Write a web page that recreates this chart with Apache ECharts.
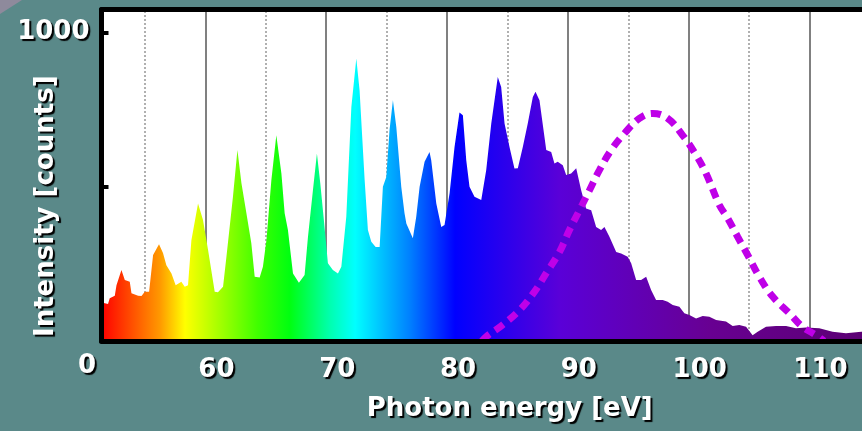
<!DOCTYPE html>
<html><head><meta charset="utf-8">
<script src="https://cdn.jsdelivr.net/npm/echarts@6/dist/echarts.min.js"></script>
<style>html,body{margin:0;padding:0;background:#5a8989}#c{width:862px;height:431px}</style>
</head><body><div id="c"></div>
<script>
// ---- data ----
const xTickLabels = [60, 70, 80, 90, 100, 110];
const gridMajor = [60, 70, 80, 90, 100, 110];
const gridMinor = [55, 65, 75, 85, 95, 105, 115];
const yTickValues = [0, 500, 1000];
const yLabelShown = [1000];
const originLabel = '0';
// measured spectrum: [photon energy eV, counts]
const spectrum = [
 [51.4,123],[51.6,123],[51.94,120],[52.08,139],[52.5,147],[52.64,181],[53.05,230],[53.33,198],[53.74,192],[53.88,155],
 [54.43,147],[54.71,146],[54.98,160],[55.34,160],[55.67,279],[56.16,314],[56.49,285],[56.77,246],[57.19,219],[57.54,181],
 [58.01,192],[58.29,176],[58.56,181],[58.84,327],[59.39,446],[59.8,392],[60.22,295],[60.77,160],[61.04,158],[61.46,176],
 [61.74,273],[62.28,468],[62.65,619],[62.98,512],[63.39,415],[63.8,317],[64.08,208],[64.49,206],[64.76,241],[65.05,327],
 [65.46,522],[65.87,667],[66.29,543],[66.56,414],[66.83,360],[67.25,219],[67.74,189],[68.21,214],[68.49,338],[68.9,489],
 [69.23,608],[69.51,511],[69.78,403],[70.14,252],[70.55,230],[70.97,219],[71.25,241],[71.66,403],[72.08,759],[72.49,916],
 [72.76,813],[73.18,522],[73.45,360],[73.73,322],[74.09,305],[74.42,305],[74.69,500],[74.97,532],[75.24,684],[75.52,781],
 [75.8,694],[76.21,500],[76.48,414],[76.63,381],[77.17,333],[77.45,403],[77.73,500],[78.14,581],[78.55,613],[78.69,586],
 [79.11,446],[79.52,370],[79.79,376],[80.21,479],[80.62,629],[81.03,741],[81.31,732],[81.59,586],[81.86,500],[82.27,468],
 [82.83,457],[83.24,554],[83.66,705],[84.2,856],[84.48,824],[84.76,705],[85.17,629],[85.58,559],[85.86,560],[86.27,629],
 [86.68,705],[87.1,791],[87.32,808],[87.65,781],[88.21,619],[88.62,613],[88.89,576],[89.16,581],[89.58,570],[89.86,538],
 [90.27,543],[90.69,560],[91.1,489],[91.51,430],[91.93,424],[92.34,370],[92.75,360],[93.03,370],[93.44,338],[94.0,289],
 [94.41,284],[94.95,273],[95.24,252],[95.65,198],[96.06,198],[96.48,208],[96.89,165],[97.3,133],[97.85,133],[98.26,127],
 [98.68,117],[99.23,111],[99.64,90],[100.06,84],[100.61,73],[101.16,81],[101.71,79],[102.27,68],[103.09,63],[103.64,49],
 [104.19,52],[104.75,46],[105.29,19],[105.71,30],[106.4,46],[107.23,49],[108.06,49],[108.88,41],[109.71,44],[110.81,41],
 [111.91,30],[113.02,25],[114.28,30],[116,28]
];
// dashed envelope curve: [eV, counts]
const envelope = [
 [82.9,0],[83.24,14],[84.59,52],[86.0,100],[87.24,160],[88.21,220],[89.31,289],[90.13,360],[90.96,424],[91.79,489],
 [92.61,554],[93.58,619],[94.68,673],[95.92,722],[97.02,738],[98.26,722],[99.5,667],[100.61,603],[101.44,543],[102.54,441],
 [103.23,398],[104.05,338],[104.88,279],[105.85,208],[106.95,144],[108.33,90],[109.43,46],[110.54,19],[111.2,0]
];

// ---- styles ----
const FONT = 'DejaVu Sans';
const labelStyle = {
  color: '#fff', fontFamily: FONT, fontWeight: 'bold', fontSize: 26,
  textShadowColor: '#000', textShadowOffsetX: 2, textShadowOffsetY: 2, textShadowBlur: 1
};
const X_MIN = 51.4, X_MAX = 116, Y_MAX = 1075;

const chart = echarts.init(document.getElementById('c'), null, {renderer: 'canvas'});
chart.setOption({
  animation: false,
  backgroundColor: '#5a8989',
  grid: {left: 101.5, top: 9.5, right: -20, bottom: 90, show: false,
         containLabel: false, outerBoundsMode: 'none'},
  xAxis: [{
    type: 'value', min: X_MIN, max: X_MAX, z: 10, position: 'bottom',
    name: 'Photon energy [eV]', nameLocation: 'middle', nameGap: 55, nameMoveOverlap: false,
    nameTextStyle: Object.assign({}, labelStyle, {padding: [0, 0, 0, 36]}),
    axisLine: {show: true, onZero: false, lineStyle: {color: '#000', width: 5}},
    axisTick: {show: false},
    splitLine: {show: false},
    axisLabel: Object.assign({}, labelStyle, {customValues: xTickLabels, margin: 16, padding: [0, 0, 0, 22],
      formatter: v => String(v)})
  }, {
    type: 'value', min: X_MIN, max: X_MAX, z: 10, position: 'top',
    axisLine: {show: true, onZero: false, lineStyle: {color: '#000', width: 5}},
    axisTick: {show: false}, axisLabel: {show: false}, splitLine: {show: false}
  }],
  yAxis: {
    type: 'value', min: 0, max: Y_MAX, interval: 500, z: 10,
    name: 'Intensity [counts]', nameLocation: 'middle', nameGap: 42, nameRotate: 90, nameMoveOverlap: false,
    nameTextStyle: Object.assign({}, labelStyle, {padding: [0, 62, 0, 0]}),
    axisLine: {show: true, onZero: false, lineStyle: {color: '#000', width: 5}},
    axisTick: {show: true, inside: true, length: 7, customValues: yTickValues, lineStyle: {color: '#000', width: 4}},
    splitLine: {show: false},
    axisLabel: Object.assign({}, labelStyle, {margin: 12, customValues: yLabelShown, formatter: v => String(v)})
  },
  graphic: [
    {type: 'polygon', z: -1, shape: {points: [[0,0],[22,0],[0,14]]}, style: {fill: '#8e8a9c'}},
    {type: 'text', left: 78, top: 353, z: 20, style: Object.assign({text: originLabel, fill: '#fff',
      font: 'bold 26px "DejaVu Sans"', textShadowColor: '#000', textShadowOffsetX: 2, textShadowOffsetY: 2, textShadowBlur: 1})}
  ],
  series: [
    {
      type: 'line', data: [], z: 0, silent: true,
      markArea: {z: 0, silent: true, itemStyle: {color: '#ffffff', opacity: 1}, label: {show: false},
        data: [[{coord: [X_MIN, 0]}, {coord: [X_MAX, Y_MAX]}]]}
    },
    {
      type: 'line', data: [], z: 1, silent: true,
      markLine: {
        z: 1, symbol: ['none', 'none'], silent: true, label: {show: false}, animation: false,
        data: gridMajor.map(v => ({xAxis: v, lineStyle: {color: '#808080', width: 2, type: 'solid'}}))
          .concat(gridMinor.map(v => ({xAxis: v, lineStyle: {color: '#b0b0b0', width: 2, type: [2, 2]}})))
      }
    },
    {
      type: 'line', data: spectrum, z: 2, symbol: 'none', silent: true,
      lineStyle: {width: 0},
      areaStyle: {opacity: 1, color: {type: 'linear', x: 0, y: 0, x2: 1, y2: 0, colorStops: [
        {offset: 0.0, color: '#ff0000'},
        {offset: 0.075, color: '#ff9900'},
        {offset: 0.107, color: '#ffff00'},
        {offset: 0.2, color: '#40ff00'},
        {offset: 0.241, color: '#00ff10'},
        {offset: 0.293, color: '#00ffb0'},
        {offset: 0.325, color: '#00ffff'},
        {offset: 0.395, color: '#0080ff'},
        {offset: 0.453, color: '#0000ff'},
        {offset: 0.587, color: '#5a00d8'},
        {offset: 0.78, color: '#680092'},
        {offset: 1.0, color: '#5a0070'}
      ]}}
    },
    {
      type: 'line', data: envelope, z: 3, symbol: 'none', smooth: 0.4, silent: true,
      lineStyle: {color: '#bf00e8', width: 7, type: [10, 7], cap: 'butt'}
    }
  ]
});
</script></body></html>
